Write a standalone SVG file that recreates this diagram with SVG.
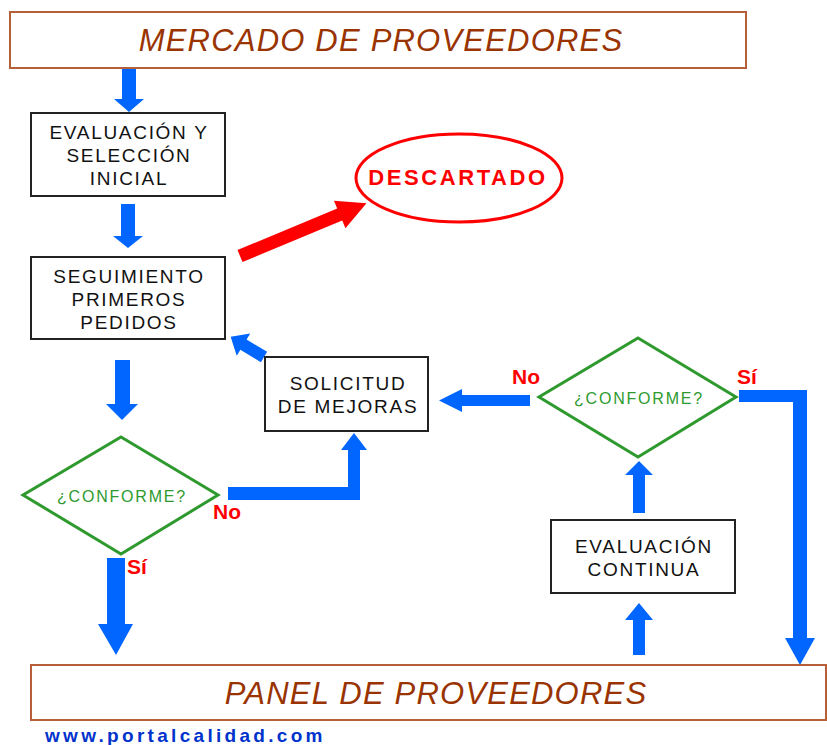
<svg xmlns="http://www.w3.org/2000/svg" width="827" height="745" viewBox="0 0 827 745">
<style>
.band{fill:#fff;stroke:#b5603a;stroke-width:2}
.bandt{font-family:"Liberation Sans",Arial,sans-serif;font-style:italic;font-size:31px;fill:#993300;letter-spacing:1.2px;text-anchor:middle}
.box{fill:#fff;stroke:#222;stroke-width:2}
.bt{font-family:"Liberation Sans",Arial,sans-serif;font-size:19px;fill:#111;letter-spacing:1.7px;text-anchor:middle}
.dia{fill:#fff;stroke:#2e9a2e;stroke-width:3}
.dt{font-family:"Liberation Sans",Arial,sans-serif;font-size:16px;fill:#2e9a2e;letter-spacing:1.8px;text-anchor:middle}
.lbl{font-family:"Liberation Sans",Arial,sans-serif;font-weight:bold;font-size:21px;fill:#ff0000}
.blue{fill:#0066ff}
.red{fill:#ff0000}
</style>
<rect width="827" height="745" fill="#fff"/>

<g id="connectors">
  <polygon class="blue" points="122,68 136,68 136,99 144,99 129,112 114,99 122,99"/>
  <polygon class="blue" points="121,204 135,204 135,236 143,236 128,248 113,236 121,236"/>
  <polygon class="blue" points="115,360 130,360 130,404 138,404 122,420 106,404 115,404"/>
  <polygon class="blue" points="107,558 125,558 125,624 133,624 116,655 98,624 107,624"/>
  <polygon class="blue" points="228,487 348,487 348,450 341,450 354,433 367,450 360,450 360,500 228,500"/>
  <polygon class="blue" transform="translate(264,357) rotate(-148.8)" points="0,-6 24,-6 24,-13 39,0 24,13 24,6 0,6"/>
  <polygon class="blue" points="530,395 530,406 462,406 462,412 439,400.5 462,389 462,395"/>
  <polygon class="blue" points="739,390 807,390 807,638 815,638 800,665 785,638 793,638 793,402 739,402"/>
  <polygon class="blue" points="633,513 645,513 645,475 653,475 639,461 625,475 633,475"/>
  <polygon class="blue" points="633,655 645,655 645,620 653,620 639,603 625,620 633,620"/>
  <polygon class="red" transform="translate(240,256) rotate(-22.6)" points="0,-6.5 108,-6.5 108,-15 137,0 108,15 108,6.5 0,6.5"/>
</g>

<g id="mercado">
  <rect class="band" x="10" y="12" width="736" height="56"/>
  <text class="bandt" x="381" y="51">MERCADO DE PROVEEDORES</text>
</g>

<g id="evaluacion-seleccion">
  <rect class="box" x="31" y="113" width="194" height="83"/>
  <text class="bt" x="129" y="139">EVALUACIÓN Y</text>
  <text class="bt" x="129" y="162">SELECCIÓN</text>
  <text class="bt" x="129" y="185">INICIAL</text>
</g>

<g id="descartado">
  <ellipse cx="459" cy="178" rx="103" ry="44" fill="#fff" stroke="#ff0000" stroke-width="3"/>
  <text x="458" y="185" font-family="'Liberation Sans',Arial,sans-serif" font-weight="bold" font-size="22" fill="#ff0000" letter-spacing="2.6" text-anchor="middle">DESCARTADO</text>
</g>

<g id="seguimiento">
  <rect class="box" x="31" y="257" width="194" height="82"/>
  <text class="bt" x="129" y="283">SEGUIMIENTO</text>
  <text class="bt" x="129" y="306">PRIMEROS</text>
  <text class="bt" x="129" y="329">PEDIDOS</text>
</g>

<g id="solicitud">
  <rect class="box" x="265" y="357" width="163" height="74"/>
  <text class="bt" x="348" y="390">SOLICITUD</text>
  <text class="bt" x="348" y="413">DE MEJORAS</text>
</g>

<g id="conforme1">
  <polygon class="dia" points="121,437 218,495 121,554 23,495"/>
  <text class="dt" x="122" y="502">¿CONFORME?</text>
  <text class="lbl" x="213" y="519">No</text>
  <text class="lbl" x="127" y="574">Sí</text>
</g>

<g id="conforme2">
  <polygon class="dia" points="638,338 736,397 638,457 539,397"/>
  <text class="dt" x="639" y="404">¿CONFORME?</text>
  <text class="lbl" x="512" y="384">No</text>
  <text class="lbl" x="737" y="384">Sí</text>
</g>

<g id="evaluacion-continua">
  <rect class="box" x="551" y="520" width="184" height="73"/>
  <text class="bt" x="644" y="553">EVALUACIÓN</text>
  <text class="bt" x="644" y="576">CONTINUA</text>
</g>

<g id="panel">
  <rect class="band" x="31" y="665" width="795" height="55"/>
  <text class="bandt" x="436" y="704">PANEL DE PROVEEDORES</text>
</g>

<text x="45" y="742" font-family="'Liberation Sans',Arial,sans-serif" font-weight="bold" font-size="19" fill="#0033cc" letter-spacing="3.3">www.portalcalidad.com</text>
</svg>
